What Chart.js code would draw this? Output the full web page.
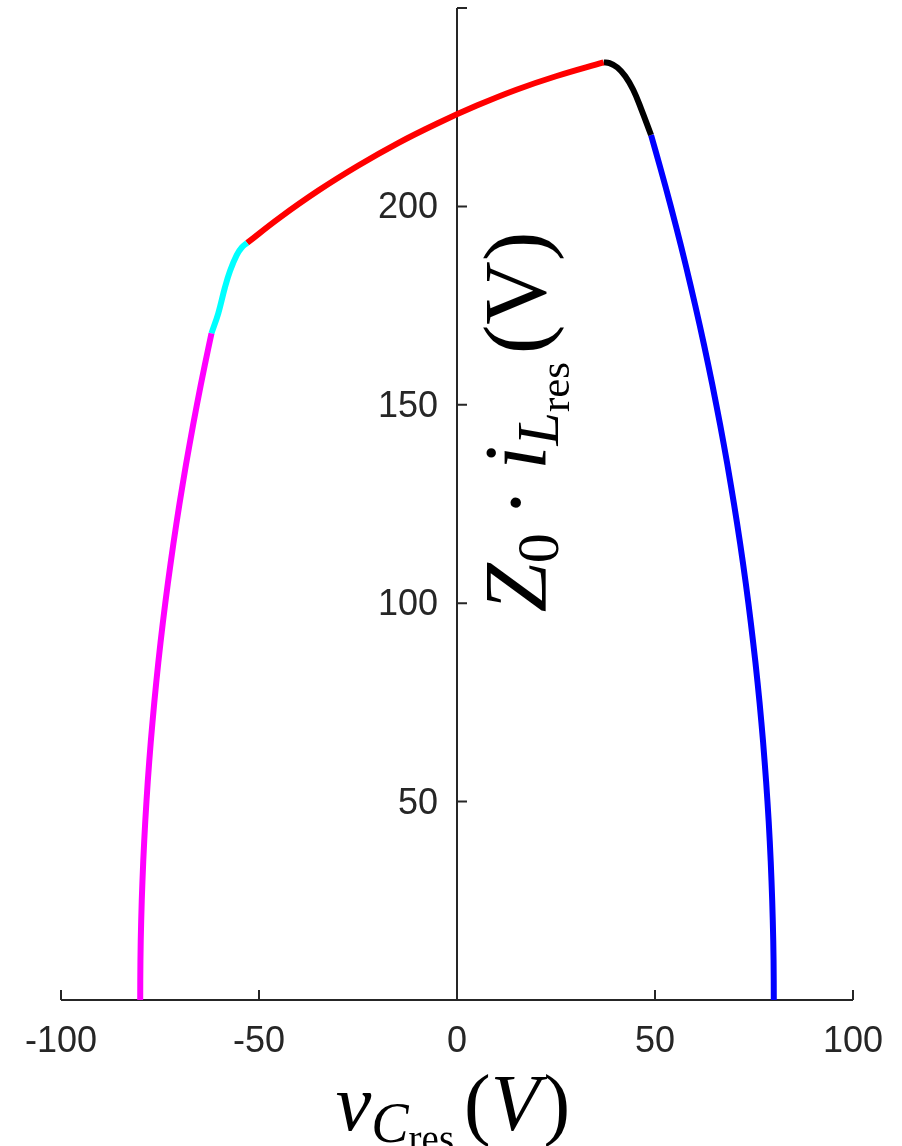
<!DOCTYPE html>
<html>
<head>
<meta charset="utf-8">
<script src="https://cdn.jsdelivr.net/npm/chart.js@4.4.1/dist/chart.umd.min.js"></script>
<style>
  html, body { margin: 0; padding: 0; background: #ffffff; }
  #wrap { width: 902px; height: 1146px; }
</style>
</head>
<body>
<div id="wrap"><canvas id="stateChart" width="902" height="1146"></canvas></div>
<script>
// axis ticks
const xTicks = [-100, -50, 0, 50, 100];
const yTicks = [50, 100, 150, 200, 250];
const yTickLabels = ["50", "100", "150", "200", ""];

// trajectory pieces: capacitor voltage (x) and scaled inductor current (y)
const magentaV = [-80.0, -79.94, -79.75, -79.43, -78.99, -78.42, -77.73, -76.9, -75.95, -74.88, -73.67, -72.33, -70.87, -69.27, -67.54, -65.68, -63.69, -62.0];
const magentaI = [0, 10, 20, 30, 40, 50, 60, 70, 80, 90, 100, 110, 120, 130, 140, 150, 160, 168];

const cyanV = [-62.0, -60.3, -58.6, -57.3, -55.6, -54.3, -53.0];
const cyanI = [168.0, 173.0, 179.6, 183.8, 187.8, 189.7, 190.8];

const redV = [-53.0, -45, -35, -25, -15, -5, 5, 15, 25, 37.0];
const redI = [190.8, 197.0, 204.0, 210.25, 215.9, 220.9, 225.4, 229.4, 232.8, 236.3];

const blackV = [37.0, 38.5, 40.5, 42.5, 44.5, 46.5, 49.0];
const blackI = [236.3, 236.1, 235.0, 232.8, 229.4, 224.6, 218.0];

const blueV = [49.0, 51.27, 53.99, 56.57, 59.0, 61.3, 63.46, 65.48, 67.37, 69.12, 70.74, 72.23, 73.58, 74.8, 75.9, 76.86, 77.69, 78.4, 78.98, 79.42, 79.74, 79.94, 80.0];
const blueI = [218, 210, 200, 190, 180, 170, 160, 150, 140, 130, 120, 110, 100, 90, 80, 70, 60, 50, 40, 30, 20, 10, 0];

const axisColor = "#262626";
const sansFont = '"Liberation Sans", Arial, Helvetica, sans-serif';
const serifFont = '"Liberation Serif", "DejaVu Serif", serif';

function toPoints(xs, ys) {
  return xs.map((x, i) => ({ x: x, y: ys[i] }));
}

function segment(xs, ys, color) {
  return {
    data: toPoints(xs, ys),
    borderColor: color,
    backgroundColor: color,
    borderWidth: 6,
    pointRadius: 0,
    showLine: true,
    tension: 0.4,
    fill: false
  };
}

// lays out a list of text runs side by side, centred on the current origin
function drawRuns(ctx, runs) {
  let total = 0;
  runs.forEach((r) => {
    ctx.font = r.font;
    r.w = ctx.measureText(r.text).width + (r.pre || 0) + (r.gap || 0);
    total += r.w;
  });
  let x = -total / 2;
  runs.forEach((r) => {
    ctx.font = r.font;
    ctx.fillText(r.text, x + (r.pre || 0), r.dy || 0);
    x += r.w;
  });
}

const axesPlugin = {
  id: "originAxes",
  beforeDatasetsDraw(chart) {
    const ctx = chart.ctx;
    const xs = chart.scales.x;
    const ys = chart.scales.y;
    const x0 = xs.getPixelForValue(0);
    const y0 = ys.getPixelForValue(0);
    const left = xs.getPixelForValue(-100);
    const right = xs.getPixelForValue(100);
    const top = ys.getPixelForValue(250);

    ctx.save();
    ctx.strokeStyle = axisColor;
    ctx.lineWidth = 2;
    ctx.beginPath();
    ctx.moveTo(left, y0);
    ctx.lineTo(right, y0);
    ctx.moveTo(x0, top);
    ctx.lineTo(x0, y0);
    xTicks.forEach((v) => {
      const px = xs.getPixelForValue(v);
      ctx.moveTo(px, y0);
      ctx.lineTo(px, y0 - 10);
    });
    yTicks.forEach((v) => {
      const py = ys.getPixelForValue(v);
      ctx.moveTo(x0, py);
      ctx.lineTo(x0 + 10, py);
    });
    ctx.stroke();

    ctx.fillStyle = axisColor;
    ctx.font = "36px " + sansFont;
    ctx.textAlign = "center";
    ctx.textBaseline = "alphabetic";
    xTicks.forEach((v) => {
      ctx.fillText(String(v), xs.getPixelForValue(v), y0 + 52);
    });
    ctx.textAlign = "right";
    yTicks.forEach((v, i) => {
      ctx.fillText(yTickLabels[i], x0 - 19, ys.getPixelForValue(v) + 12);
    });
    ctx.restore();

    // axis titles
    ctx.save();
    ctx.fillStyle = "#000000";
    ctx.textAlign = "left";
    ctx.textBaseline = "alphabetic";
    ctx.translate(453, 1130);
    drawRuns(ctx, [
      { text: "v", font: "italic 80px " + serifFont },
      { text: "C", font: "italic 56px " + serifFont, dy: 12 },
      { text: "res", font: "39px " + serifFont, dy: 22, gap: 10 },
      { text: "(", font: "80px " + serifFont },
      { text: "V", font: "italic 80px " + serifFont, gap: 4 },
      { text: ")", font: "80px " + serifFont }
    ]);
    ctx.restore();

    ctx.save();
    ctx.fillStyle = "#000000";
    ctx.textAlign = "left";
    ctx.textBaseline = "alphabetic";
    ctx.translate(545, 422);
    ctx.rotate(-Math.PI / 2);
    drawRuns(ctx, [
      { text: "Z", font: "italic 88px " + serifFont },
      { text: "0", font: "60px " + serifFont, dy: 13 },
      { text: "\u00B7", font: "88px " + serifFont, pre: 16, gap: 18 },
      { text: "i", font: "italic 88px " + serifFont },
      { text: "L", font: "italic 60px " + serifFont, dy: 13 },
      { text: "res", font: "43px " + serifFont, dy: 24, gap: 8 },
      { text: "(", font: "88px " + serifFont },
      { text: "V", font: "88px " + serifFont },
      { text: ")", font: "88px " + serifFont }
    ]);
    ctx.restore();
  }
};

new Chart(document.getElementById("stateChart"), {
  type: "scatter",
  data: {
    datasets: [
      segment(magentaV, magentaI, "#ff00ff"),
      segment(cyanV, cyanI, "#00ffff"),
      segment(redV, redI, "#ff0000"),
      segment(blackV, blackI, "#000000"),
      segment(blueV, blueI, "#0000ff")
    ]
  },
  options: {
    responsive: false,
    animation: false,
    layout: { padding: { left: 61, right: 49, top: 8, bottom: 146 } },
    plugins: {
      legend: { display: false },
      tooltip: { enabled: false }
    },
    scales: {
      x: { type: "linear", min: -100, max: 100, display: false },
      y: { type: "linear", min: 0, max: 250, display: false }
    }
  },
  plugins: [axesPlugin]
});
</script>
</body>
</html>
